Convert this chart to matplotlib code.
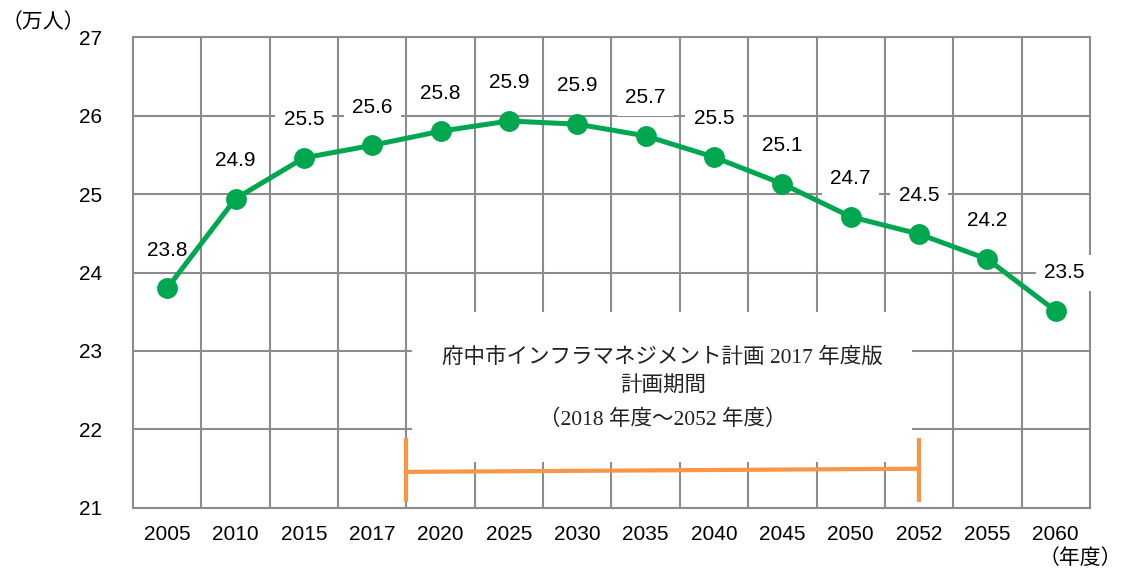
import matplotlib
matplotlib.use("Agg")
import matplotlib.pyplot as plt
from matplotlib.patches import Rectangle

# data
years = ["2005", "2010", "2015", "2017", "2020", "2025", "2030",
         "2035", "2040", "2045", "2050", "2052", "2055", "2060"]
population = [23.80, 24.94, 25.46, 25.62, 25.80, 25.93, 25.89,
              25.74, 25.47, 25.13, 24.71, 24.49, 24.17, 23.51]
yticks = [21, 22, 23, 24, 25, 26, 27]
plan_lines = ["府中市インフラマネジメント計画 2017 年度版",
              "計画期間",
              "（2018 年度～2052 年度）"]

GREEN = "#00A74F"
ORANGE = "#F79646"
GRID = "#8C8C8C"
CJK = ["Noto Sans CJK JP", "DejaVu Sans"]
SERIF_CJK = ["Liberation Serif", "Noto Sans CJK JP"]

fig = plt.figure(figsize=(11.26, 5.72), dpi=100)
ax = fig.add_axes([0.1181, 0.1119, 0.968 - 0.1181, 0.9353 - 0.1119])

x = list(range(len(years)))
ax.set_xlim(-0.5, len(years) - 0.5)
ax.set_ylim(21, 27)

# grid: vertical lines at cell borders, horizontal at integers
ax.set_xticks(x)
ax.set_xticklabels(years, fontsize=15, family="Liberation Sans")
ax.set_xticks([i + 0.5 for i in x[:-1]], minor=True)
ax.set_yticks(yticks)
ax.set_yticklabels([str(t) for t in yticks], fontsize=15, family="Liberation Sans")
ax.grid(True, which="minor", axis="x", color=GRID, lw=1.5, zorder=0)
ax.grid(True, which="major", axis="y", color=GRID, lw=1.5, zorder=0)
ax.set_axisbelow(True)
ax.tick_params(which="both", length=0)
ax.tick_params(axis="y", pad=22)
ax.tick_params(axis="x", pad=12)
for s in ax.spines.values():
    s.set_color(GRID)
    s.set_linewidth(1.5)

# population line
ax.plot(x, population, color=GREEN, lw=3.6, marker="o", ms=14,
        solid_capstyle="round", zorder=3)

# value labels; all but the first sit on white boxes above the line
for i, v in enumerate(population):
    dx = 0.13 if i == len(years) - 1 else 0
    if i == 0:
        box, z = None, 2.5
    else:
        box, z = dict(boxstyle="square,pad=0.4", fc="white", ec="none"), 4
    ax.annotate(f"{v:.1f}", (i + dx, v), xytext=(0, 27.5), textcoords="offset points",
                ha="center", va="center", fontsize=15, family="Liberation Sans",
                bbox=box, zorder=z)

# white box for the plan period note
ax.add_patch(Rectangle((3.58, 21.58), 10.9 - 3.58, 23.5 - 21.58,
                       facecolor="white", edgecolor="none", zorder=2))
for txt, ty in zip(plan_lines, [22.91, 22.54, 22.12]):
    ax.text(7.25, ty, txt, ha="center", va="center", fontsize=15.5,
            family=SERIF_CJK, color="#222222", zorder=3)

# orange bracket for the plan period
ax.plot([3.5, 11.0], [21.46, 21.50], color=ORANGE, lw=3, zorder=3)
ax.plot([3.5, 3.5], [21.1, 21.87], color=ORANGE, lw=3, zorder=3)
ax.plot([11.0, 11.0], [21.1, 21.87], color=ORANGE, lw=3, zorder=3)

fig.text(43 / 1126, 1 - 22 / 572, "（万人）", ha="center", va="center",
         fontsize=15, family=CJK)
fig.text(1080 / 1126, 1 - 558 / 572, "（年度）", ha="center", va="center",
         fontsize=15, family=CJK)

fig.savefig("out.png", dpi=100)
